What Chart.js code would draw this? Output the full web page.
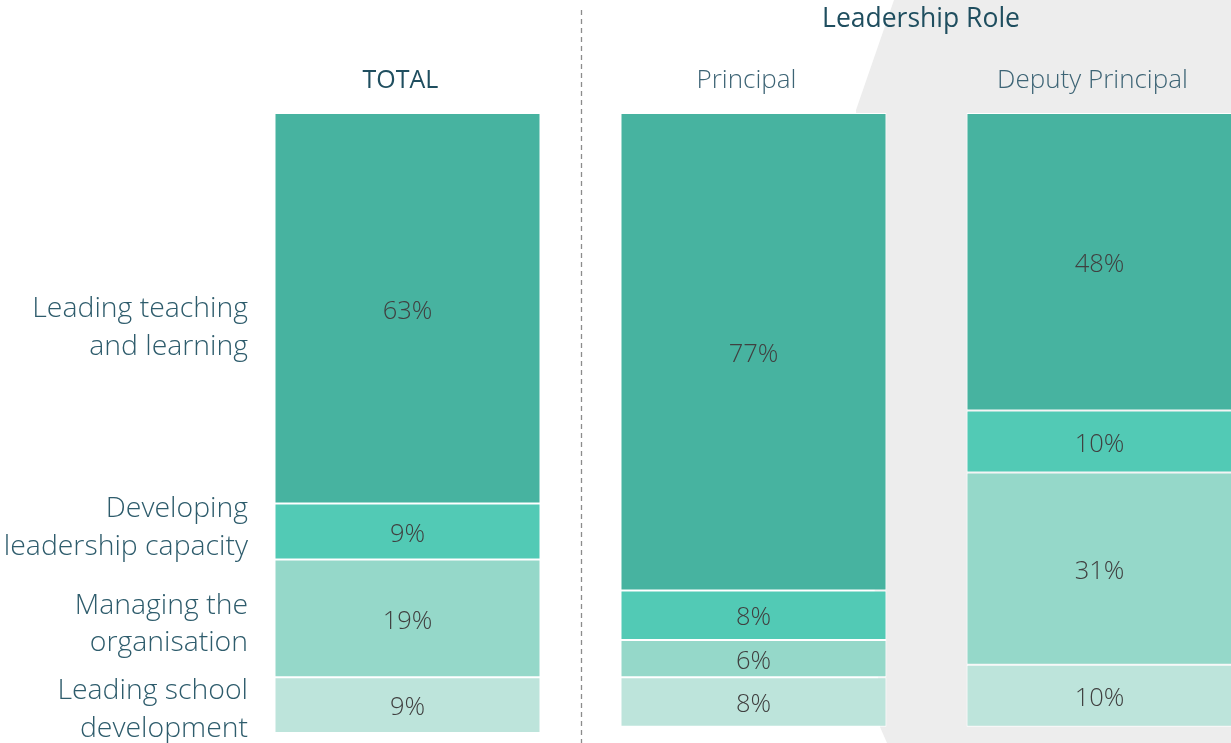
<!DOCTYPE html>
<html>
<head>
<meta charset="utf-8">
<script src="https://cdn.jsdelivr.net/npm/chart.js@4.4.1/dist/chart.umd.min.js"></script>
<style>
  html, body { margin: 0; padding: 0; overflow: hidden; background: #fff; }
  #wrap { position: absolute; left: 0; top: 0; width: 1280px; height: 743px; }
</style>
</head>
<body>
<div id="wrap"><canvas id="chart" width="1280" height="743"></canvas></div>
<script>
const groups = ['TOTAL', 'Principal', 'Deputy Principal'];
const categories = [
  ['Leading teaching', 'and learning'],
  ['Developing', 'leadership capacity'],
  ['Managing the', 'organisation'],
  ['Leading school', 'development']
];
// values per category, in order TOTAL / Principal / Deputy Principal
const teachingValues = [63, 77, 48];
const capacityValues = [9, 8, 10];
const organisationValues = [19, 6, 31];
const developmentValues = [9, 8, 10];

const colors = ['#47B3A0', '#52CAB5', '#95D8C9', '#BDE4DB'];
const groupTitle = 'Leadership Role';

const FONT = '"Open Sans", "Segoe UI", sans-serif';

// stacked from the top down
const series = [
  { data: teachingValues, color: colors[0], text: categories[0], textY: [309, 347] },
  { data: capacityValues, color: colors[1], text: categories[1], textY: [509, 547] },
  { data: organisationValues, color: colors[2], text: categories[2], textY: [606, 643] },
  { data: developmentValues, color: colors[3], text: categories[3], textY: [691, 729] }
];

const backdrop = {
  id: 'backdrop',
  beforeDraw(chart) {
    const ctx = chart.ctx;
    ctx.save();
    ctx.fillStyle = '#fff';
    ctx.fillRect(0, 0, chart.width, chart.height);
    // grey panel behind the role columns
    ctx.fillStyle = '#EDEDED';
    ctx.beginPath();
    ctx.moveTo(894, 0);
    ctx.lineTo(1280, 0);
    ctx.lineTo(1280, 743);
    ctx.lineTo(887, 743);
    ctx.lineTo(880, 727);
    ctx.lineTo(856, 110);
    ctx.closePath();
    ctx.fill();
    // dashed divider
    ctx.strokeStyle = '#8C8C8C';
    ctx.lineWidth = 1.3;
    ctx.setLineDash([5, 4]);
    ctx.beginPath();
    ctx.moveTo(581.5, 10);
    ctx.lineTo(581.5, 743);
    ctx.stroke();
    ctx.restore();
  }
};

const annotations = {
  id: 'annotations',
  afterDatasetsDraw(chart) {
    const ctx = chart.ctx;
    ctx.save();
    ctx.textAlign = 'center';
    ctx.textBaseline = 'middle';

    // value labels
    ctx.font = '300 25.5px ' + FONT;
    ctx.fillStyle = '#404040';
    chart.data.datasets.forEach((ds, di) => {
      chart.getDatasetMeta(di).data.forEach((bar, i) => {
        const mid = (bar.y + bar.base) / 2;
        ctx.fillText(ds.data[i] + '%', bar.x, mid + 3);
      });
    });

    // title and column headers
    ctx.fillStyle = '#1F4E5F';
    ctx.font = '400 26.5px ' + FONT;
    ctx.fillText(groupTitle, 921, 19);
    const meta = chart.getDatasetMeta(0).data;
    groups.forEach((g, i) => {
      if (i === 0) {
        ctx.fillStyle = '#1F4E5F';
        ctx.font = '400 25px ' + FONT;
      } else {
        ctx.fillStyle = '#3D6475';
        ctx.font = '300 26px ' + FONT;
      }
      ctx.fillText(g, meta[i].x - 7, 81);
    });

    // category labels on the left
    ctx.textAlign = 'right';
    ctx.fillStyle = '#2E5C6C';
    ctx.font = '300 28.4px ' + FONT;
    series.forEach(s => {
      s.text.forEach((line, k) => ctx.fillText(line, 248, s.textY[k]));
    });
    ctx.restore();
  }
};

new Chart(document.getElementById('chart'), {
  type: 'bar',
  data: {
    labels: groups,
    datasets: series.map(s => ({
      label: s.text.join(' '),
      data: s.data,
      backgroundColor: s.color,
      borderColor: '#ffffff',
      borderWidth: 1,
      borderSkipped: false,
      barPercentage: 1,
      categoryPercentage: 266 / 346
    }))
  },
  options: {
    responsive: false,
    animation: false,
    layout: { padding: { left: 234.5, right: 7.5, top: 113, bottom: 10 } },
    plugins: { legend: { display: false }, tooltip: { enabled: false } },
    scales: {
      x: { stacked: true, display: false },
      y: { stacked: true, display: false, min: 0, max: 100, reverse: true }
    }
  },
  plugins: [backdrop, annotations]
});
</script>
</body>
</html>
